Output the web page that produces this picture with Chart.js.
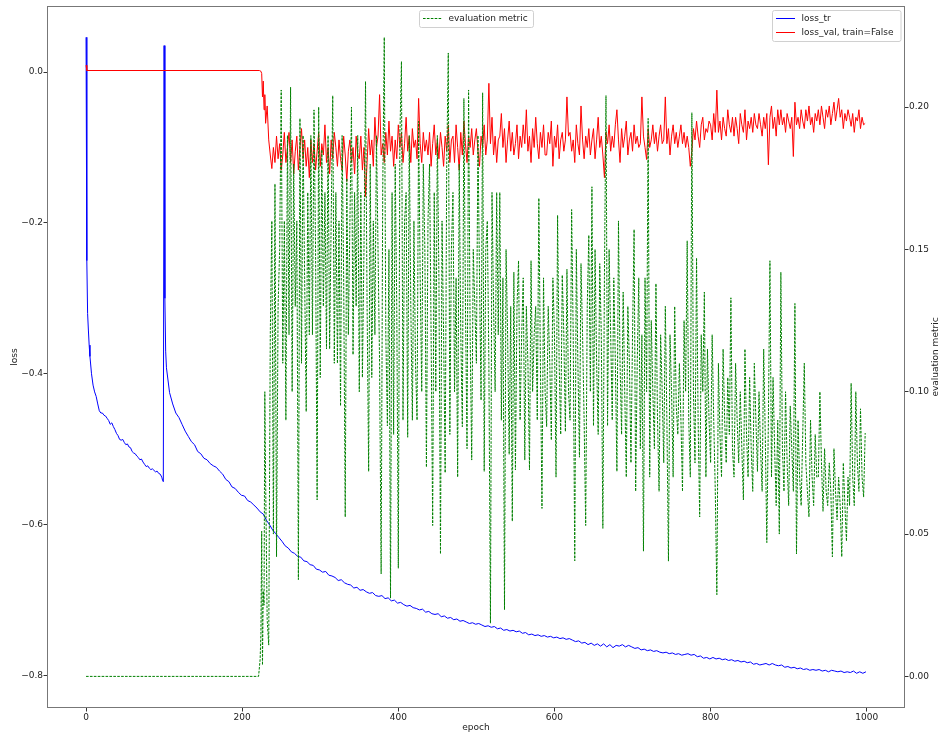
<!DOCTYPE html>
<html>
<head>
<meta charset="utf-8">
<script src="https://cdn.jsdelivr.net/npm/chart.js@4.4.1/dist/chart.umd.min.js"></script>
<style>
  html, body { margin: 0; padding: 0; background: #fff; }
  #grafico { display: block; }
</style>
</head>
<body>
<canvas id="grafico" width="944" height="738"></canvas>
<script>
// ticks
const xTicks = [0, 200, 400, 600, 800, 1000];
const lossTicks = [-0.8, -0.6, -0.4, -0.2, 0.0];
const metricTicks = [0.00, 0.05, 0.10, 0.15, 0.20];

// loss_tr: primeros epochs a mano, luego cada 4 epochs desde 103
const trEarlyEpochs = [0,1,2,3,4,5,7,9,11,13,15,17,19,21,23,25,27,29,31,33,35,37,39,41,43,45,47,49,51,53,55,57,59,61,63,65,67,69,71,73,75,77,79,81,83,85,87,89,91,93,95,97,98,99,100,101,102];
const trEarlyLoss = [0.046,-0.25,-0.32,-0.342,-0.362,-0.377,-0.400,-0.415,-0.424,-0.430,-0.440,-0.449,-0.452,-0.452,-0.455,-0.456,-0.459,-0.462,-0.467,-0.465,-0.470,-0.474,-0.479,-0.482,-0.487,-0.488,-0.487,-0.491,-0.494,-0.493,-0.497,-0.498,-0.503,-0.505,-0.506,-0.509,-0.511,-0.514,-0.513,-0.517,-0.520,-0.523,-0.522,-0.525,-0.527,-0.526,-0.528,-0.530,-0.529,-0.532,-0.533,-0.537,-0.541,-0.543,0.035,-0.30,-0.37];
const trStart = 103, trStep = 4;
const trLoss = [
  -0.392,-0.425,-0.440,-0.452,-0.458,-0.467,-0.476,-0.483,-0.490,-0.494,
  -0.503,-0.506,-0.512,-0.514,-0.519,-0.522,-0.524,-0.529,-0.533,-0.540,
  -0.543,-0.550,-0.552,-0.557,-0.561,-0.562,-0.568,-0.570,-0.574,-0.578,
  -0.583,-0.586,-0.594,-0.600,-0.607,-0.612,-0.617,-0.622,-0.628,-0.631,
  -0.636,-0.638,-0.642,-0.643,-0.648,-0.649,-0.653,-0.654,-0.659,-0.660,
  -0.663,-0.662,-0.667,-0.668,-0.670,-0.674,-0.673,-0.677,-0.679,-0.680,
  -0.684,-0.683,-0.687,-0.686,-0.689,-0.691,-0.690,-0.694,-0.695,-0.694,
  -0.698,-0.697,-0.701,-0.700,-0.704,-0.703,-0.706,-0.708,-0.707,-0.710,
  -0.711,-0.713,-0.712,-0.716,-0.715,-0.718,-0.719,-0.718,-0.722,-0.721,
  -0.724,-0.723,-0.726,-0.725,-0.728,-0.727,-0.729,-0.731,-0.730,-0.732,
  -0.731,-0.733,-0.735,-0.734,-0.736,-0.735,-0.738,-0.737,-0.740,-0.739,
  -0.741,-0.740,-0.742,-0.741,-0.744,-0.743,-0.746,-0.745,-0.747,-0.746,
  -0.748,-0.747,-0.749,-0.748,-0.750,-0.749,-0.751,-0.750,-0.752,-0.751,
  -0.753,-0.755,-0.754,-0.757,-0.756,-0.759,-0.757,-0.760,-0.758,-0.761,
  -0.758,-0.762,-0.759,-0.763,-0.760,-0.761,-0.759,-0.762,-0.760,-0.762,
  -0.764,-0.763,-0.766,-0.765,-0.767,-0.766,-0.768,-0.767,-0.769,-0.770,
  -0.769,-0.771,-0.770,-0.772,-0.771,-0.773,-0.772,-0.771,-0.773,-0.772,
  -0.775,-0.774,-0.777,-0.776,-0.778,-0.776,-0.778,-0.777,-0.779,-0.778,
  -0.780,-0.779,-0.781,-0.780,-0.782,-0.781,-0.783,-0.782,-0.785,-0.784,
  -0.786,-0.785,-0.784,-0.786,-0.784,-0.786,-0.787,-0.786,-0.789,-0.788,
  -0.790,-0.789,-0.791,-0.790,-0.792,-0.791,-0.793,-0.792,-0.793,-0.792,
  -0.794,-0.793,-0.795,-0.793,-0.794,-0.795,-0.794,-0.796,-0.795,-0.796,
  -0.794,-0.797,-0.795,-0.797,-0.795
];

// loss_val y evaluation metric: tramo plano, luego cada 2 epochs desde 230
const valEarlyEpochs = [0,1,222,224,225,226,227,228,229];
const valEarlyLoss = [0.009,0.002,0.002,0.001,-0.002,-0.033,-0.012,-0.05,-0.03];
const noisyStart = 230, noisyStep = 2;
const valLoss = [
  -0.068,-0.045,-0.09,-0.11,-0.128,-0.10,-0.12,-0.085,-0.115,-0.095,-0.13,-0.11,-0.08,-0.12,-0.10,
  -0.08,-0.12,-0.09,-0.135,-0.105,-0.085,-0.13,-0.10,-0.075,-0.115,-0.09,-0.125,-0.10,-0.14,-0.09,
  -0.12,-0.095,-0.13,-0.105,-0.08,-0.125,-0.095,-0.11,-0.07,-0.12,-0.10,-0.135,-0.09,-0.115,-0.08,
  -0.10,-0.125,-0.09,-0.115,-0.13,-0.085,-0.11,-0.145,-0.105,-0.09,-0.12,-0.10,-0.135,-0.085,-0.11,
  -0.115,-0.085,-0.13,-0.10,-0.165,-0.12,-0.075,-0.11,-0.09,-0.125,-0.06,-0.10,-0.085,-0.03,-0.11,
  -0.095,-0.12,-0.08,-0.11,-0.065,-0.105,-0.085,-0.125,-0.09,-0.115,-0.07,-0.10,-0.08,-0.12,-0.095,
  -0.06,-0.105,-0.085,-0.12,-0.075,-0.10,-0.09,-0.115,-0.035,-0.095,-0.12,-0.08,-0.105,-0.09,-0.11,
  -0.08,-0.125,-0.095,-0.07,-0.11,-0.09,-0.115,-0.08,-0.10,-0.125,-0.085,-0.105,-0.07,-0.12,-0.09,
  -0.085,-0.12,-0.07,-0.10,-0.13,-0.08,-0.11,-0.065,-0.095,-0.12,-0.085,-0.10,-0.075,-0.11,-0.09,
  -0.075,-0.105,-0.125,-0.085,-0.10,-0.07,-0.11,-0.09,-0.015,-0.095,-0.06,-0.11,-0.085,-0.12,-0.09,
  -0.085,-0.055,-0.10,-0.075,-0.12,-0.09,-0.065,-0.105,-0.08,-0.11,-0.095,-0.07,-0.115,-0.085,-0.10,
  -0.07,-0.095,-0.05,-0.105,-0.085,-0.12,-0.075,-0.10,-0.06,-0.095,-0.115,-0.08,-0.10,-0.07,-0.11,
  -0.11,-0.08,-0.095,-0.065,-0.125,-0.085,-0.10,-0.07,-0.115,-0.09,-0.08,-0.105,-0.09,-0.033,-0.085,
  -0.08,-0.105,-0.09,-0.12,-0.07,-0.095,-0.11,-0.045,-0.09,-0.115,-0.085,-0.10,-0.075,-0.11,-0.09,
  -0.075,-0.115,-0.09,-0.06,-0.10,-0.085,-0.11,-0.14,-0.08,-0.095,-0.07,-0.105,-0.085,-0.10,-0.07,
  -0.05,-0.09,-0.12,-0.075,-0.10,-0.085,-0.065,-0.11,-0.09,-0.08,-0.105,-0.07,-0.095,-0.085,-0.10,
  -0.095,-0.033,-0.085,-0.10,-0.116,-0.075,-0.10,-0.09,-0.07,-0.095,-0.08,-0.105,-0.085,-0.07,-0.095,
  -0.09,-0.033,-0.095,-0.075,-0.11,-0.085,-0.07,-0.095,-0.08,-0.10,-0.085,-0.07,-0.095,-0.08,-0.10,
  -0.085,-0.10,-0.125,-0.105,-0.075,-0.09,-0.065,-0.085,-0.10,-0.07,-0.06,-0.09,-0.075,-0.08,-0.065,
  -0.07,-0.09,-0.055,-0.08,-0.024,-0.08,-0.065,-0.09,-0.06,-0.075,-0.085,-0.05,-0.07,-0.08,-0.06,
  -0.085,-0.06,-0.075,-0.095,-0.055,-0.07,-0.08,-0.05,-0.09,-0.065,-0.075,-0.06,-0.08,-0.055,-0.07,
  -0.075,-0.055,-0.07,-0.085,-0.06,-0.075,-0.055,-0.123,-0.06,-0.045,-0.075,-0.06,-0.085,-0.05,-0.07,
  -0.05,-0.07,-0.06,-0.08,-0.055,-0.065,-0.075,-0.06,-0.112,-0.04,-0.07,-0.06,-0.075,-0.05,-0.065,
  -0.075,-0.05,-0.065,-0.045,-0.07,-0.06,-0.08,-0.055,-0.065,-0.05,-0.07,-0.045,-0.06,-0.075,-0.05,
  -0.06,-0.045,-0.07,-0.055,-0.04,-0.065,-0.05,-0.035,-0.06,-0.05,-0.075,-0.055,-0.065,-0.05,-0.06,
  -0.072,-0.055,-0.08,-0.06,-0.065,-0.05,-0.075,-0.06,-0.07,-0.068
];

const metricEarlyEpochs = [0,221,223,224,225,226,227,228,229];
const metricEarly = [0,0,0.006,0.015,0.051,0.004,0.03,0.025,0.1];
const metric = [
  0.07,0.02,0.011,0.12,0.16,0.05,0.173,0.042,0.13,0.15,0.206,0.11,0.16,0.09,0.19,
  0.12,0.207,0.10,0.18,0.13,0.16,0.034,0.196,0.11,0.19,0.14,0.093,0.17,0.12,0.19,
  0.12,0.199,0.15,0.062,0.2,0.105,0.185,0.13,0.17,0.115,0.19,0.115,0.16,0.204,0.11,
  0.17,0.11,0.16,0.095,0.19,0.14,0.056,0.175,0.12,0.16,0.2,0.113,0.17,0.13,0.19,
  0.10,0.17,0.105,0.15,0.209,0.13,0.072,0.18,0.105,0.16,0.12,0.19,0.15,0.11,0.036,
  0.17,0.2245,0.12,0.088,0.15,0.0275,0.17,0.085,0.18,0.13,0.038,0.19,0.216,0.09,0.16,
  0.17,0.084,0.19,0.13,0.09,0.16,0.11,0.09,0.195,0.14,0.10,0.18,0.15,0.0735,0.16,
  0.18,0.12,0.053,0.17,0.10,0.19,0.14,0.043,0.16,0.12,0.0715,0.18,0.219,0.085,0.15,
  0.17,0.10,0.14,0.07,0.18,0.12,0.0877,0.203,0.13,0.08,0.206,0.12,0.076,0.15,0.13,
  0.11,0.19,0.14,0.097,0.205,0.072,0.15,0.16,0.11,0.0187,0.17,0.13,0.10,0.17,0.12,
  0.17,0.09,0.14,0.0234,0.15,0.12,0.078,0.13,0.0545,0.142,0.0725,0.13,0.146,0.09,0.12,
  0.14,0.076,0.13,0.11,0.0725,0.146,0.10,0.12,0.13,0.09,0.168,0.11,0.059,0.14,0.10,
  0.0877,0.13,0.11,0.083,0.14,0.12,0.07,0.162,0.11,0.085,0.141,0.12,0.086,0.143,0.10,
  0.09,0.164,0.12,0.0406,0.15,0.11,0.077,0.145,0.12,0.09,0.053,0.13,0.155,0.10,0.172,
  0.088,0.15,0.11,0.085,0.145,0.12,0.052,0.14,0.204,0.088,0.15,0.12,0.09,0.14,0.11,
  0.072,0.16,0.11,0.085,0.135,0.10,0.07,0.13,0.11,0.075,0.12,0.157,0.065,0.11,0.14,
  0.08,0.12,0.044,0.14,0.10,0.196,0.07,0.125,0.10,0.08,0.138,0.09,0.065,0.12,0.10,
  0.075,0.13,0.09,0.0405,0.12,0.10,0.07,0.13,0.095,0.085,0.11,0.09,0.065,0.125,0.10,
  0.153,0.09,0.07,0.198,0.10,0.075,0.147,0.09,0.056,0.12,0.10,0.135,0.07,0.115,0.09,
  0.075,0.12,0.09,0.065,0.0287,0.11,0.085,0.07,0.115,0.09,0.075,0.105,0.085,0.133,0.08,
  0.07,0.11,0.09,0.075,0.10,0.08,0.062,0.115,0.085,0.07,0.105,0.08,0.065,0.11,0.09,
  0.072,0.10,0.08,0.065,0.115,0.085,0.047,0.09,0.146,0.07,0.105,0.08,0.06,0.09,0.05,
  0.142,0.08,0.065,0.10,0.075,0.06,0.095,0.08,0.065,0.131,0.043,0.09,0.07,0.06,0.085,
  0.11,0.075,0.065,0.056,0.09,0.07,0.06,0.085,0.07,0.07,0.10,0.075,0.058,0.08,0.065,
  0.06,0.075,0.065,0.042,0.08,0.065,0.055,0.07,0.06,0.042,0.075,0.06,0.0475,0.07,0.06,
  0.103,0.07,0.06,0.10,0.075,0.065,0.094,0.07,0.063,0.0855
];

function puntos(epochsEarly, valsEarly, start, step, vals) {
  const pts = epochsEarly.map((e, i) => ({ x: e, y: valsEarly[i] }));
  vals.forEach((v, i) => pts.push({ x: start + step * i, y: v }));
  return pts;
}

function leyenda(ctx, x, y, w, h, filas) {
  ctx.fillStyle = "rgba(255,255,255,0.8)";
  ctx.strokeStyle = "#d0d0d0";
  ctx.lineWidth = 1;
  ctx.beginPath();
  ctx.roundRect(x, y, w, h, 2);
  ctx.fill();
  ctx.stroke();
  filas.forEach(f => {
    ctx.strokeStyle = f.color;
    ctx.setLineDash(f.dash || []);
    ctx.beginPath();
    ctx.moveTo(x + 3.5, f.y);
    ctx.lineTo(x + 22.5, f.y);
    ctx.stroke();
    ctx.setLineDash([]);
    ctx.fillStyle = "#222";
    ctx.textBaseline = "middle";
    ctx.textAlign = "left";
    ctx.fillText(f.text, x + 29, f.y);
  });
}

const extras = {
  id: "extras",
  afterDraw(chart) {
    const { ctx, chartArea: a } = chart;
    ctx.save();
    ctx.strokeStyle = "#777";
    ctx.lineWidth = 1;
    ctx.strokeRect(a.left + 0.5, a.top + 0.5, a.right - a.left - 1, a.bottom - a.top - 1);

    ctx.font = "9px 'DejaVu Sans'";
    leyenda(ctx, 419.5, 10.5, 114, 17, [
      { color: "#008000", dash: [2.6, 1.3], text: "evaluation metric", y: 18.5 }
    ]);
    leyenda(ctx, 772.5, 10.5, 128.5, 31, [
      { color: "#0000ff", text: "loss_tr", y: 18.5 },
      { color: "#ff0000", text: "loss_val, train=False", y: 32.5 }
    ]);

    // titulo del eje derecho, leído de abajo hacia arriba
    ctx.translate(936, (a.top + a.bottom) / 2);
    ctx.rotate(-Math.PI / 2);
    ctx.fillStyle = "#222";
    ctx.textAlign = "center";
    ctx.textBaseline = "middle";
    ctx.fillText("evaluation metric", 0, 0);
    ctx.restore();
  }
};

Chart.defaults.font.family = "'DejaVu Sans', sans-serif";
Chart.defaults.font.size = 9;
Chart.defaults.color = "#222";

const marcas = { drawOnChartArea: false, drawTicks: true, tickLength: 3.5, color: "#333" };

new Chart(document.getElementById("grafico").getContext("2d"), {
  type: "line",
  data: {
    datasets: [
      {
        label: "evaluation metric",
        data: puntos(metricEarlyEpochs, metricEarly, noisyStart, noisyStep, metric),
        yAxisID: "y2",
        borderColor: "#008000",
        borderWidth: 1,
        borderDash: [2.6, 1.3]
      },
      {
        label: "loss_val, train=False",
        data: puntos(valEarlyEpochs, valEarlyLoss, noisyStart, noisyStep, valLoss),
        yAxisID: "y",
        borderColor: "#ff0000",
        borderWidth: 1
      },
      {
        label: "loss_tr",
        data: puntos(trEarlyEpochs, trEarlyLoss, trStart, trStep, trLoss),
        yAxisID: "y",
        borderColor: "#0000ff",
        borderWidth: 1
      }
    ]
  },
  options: {
    responsive: false,
    animation: false,
    events: [],
    layout: { padding: { top: 6, left: 0, right: 0, bottom: 0 } },
    elements: { point: { radius: 0 }, line: { tension: 0 } },
    plugins: { legend: { display: false }, tooltip: { enabled: false } },
    scales: {
      x: {
        type: "linear",
        min: -50,
        max: 1049,
        afterBuildTicks: s => { s.ticks = xTicks.map(v => ({ value: v })); },
        afterFit: s => { s.height = 30; },
        grid: marcas,
        border: { display: false },
        ticks: { padding: 0.5, autoSkip: false, maxRotation: 0, callback: v => String(v) },
        title: { display: true, text: "epoch", padding: { top: 0, bottom: 5 } }
      },
      y: {
        position: "left",
        min: -0.843,
        max: 0.0875,
        afterBuildTicks: s => { s.ticks = lossTicks.map(v => ({ value: v })); },
        afterFit: s => { s.width = 47; },
        grid: marcas,
        border: { display: false },
        ticks: {
          padding: 0.5,
          autoSkip: false,
          callback: v => Math.abs(v) < 1e-9 ? "0.0" : "\u2212" + Math.abs(v).toFixed(1)
        },
        title: { display: true, text: "loss", padding: { top: 9.5, bottom: 0 } }
      },
      y2: {
        position: "right",
        min: -0.0111,
        max: 0.2355,
        afterBuildTicks: s => { s.ticks = metricTicks.map(v => ({ value: v })); },
        afterFit: s => { s.width = 39; },
        grid: marcas,
        border: { display: false },
        ticks: { padding: 0.5, autoSkip: false, callback: v => v.toFixed(2) }
      }
    }
  },
  plugins: [extras]
});
</script>
</body>
</html>
